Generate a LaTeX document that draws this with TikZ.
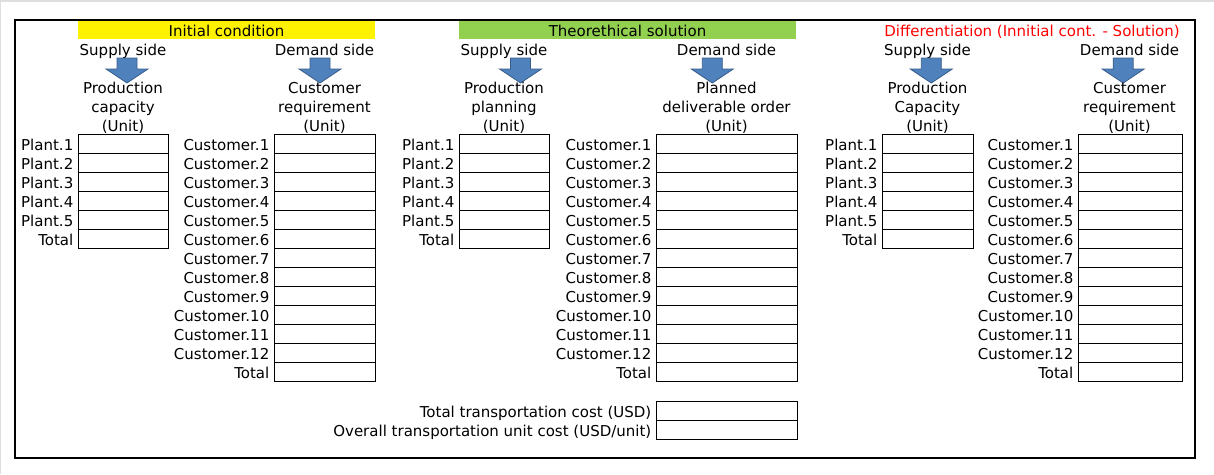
\documentclass[tikz,border=0pt]{standalone}
\usepackage{fontspec}
\setmainfont{DejaVu Sans}
\usepackage{tikz}
\usepackage{xcolor}
\definecolor{headgreen}{RGB}{146,208,80}
\definecolor{arrowfill}{RGB}{79,129,189}
\definecolor{arrowline}{RGB}{56,93,138}
\definecolor{edgegray}{RGB}{222,222,222}

\begin{document}
\begin{tikzpicture}[x=1pt,y=1pt,yscale=-1,xscale=1,
  font=\fontsize{15}{19}\selectfont,
  txt/.style={inner sep=0pt, text height=13.6pt, text depth=0pt},
  rowlabel/.style={txt, anchor=east},
  cell/.style={draw, line width=0.8pt, inner sep=0pt, anchor=north west, minimum height=19pt},
  heading/.style={txt, minimum height=18pt},
  stack/.style={align=center, inner sep=0pt, anchor=base},
  downarrow/.style={fill=arrowfill, draw=arrowline, line width=0.8pt}]
\useasboundingbox (0,0) rectangle (1214,474);

%Screen edge
\draw [edgegray, line width=2.4] (0,1.2) -- (1214,1.2);
\draw [edgegray, line width=1.4] (0.7,0) -- (0.7,474);
%Frame
\draw [line width=2] (15,20) rectangle (1194.5,458);

% Text Node
\node [heading, fill=yellow, minimum width=297pt] (initHead) at (226.5,29.5) {Initial condition};
% Text Node
\node [heading, fill=headgreen, minimum width=337pt] (solHead) at (627.5,29.5) {Theorethical solution};
% Text Node
\node [heading, text=red] (diffHead) at (1032,29.5) {Differentiation (Innitial cont. - Solution)};

%Block arrows and side names
\foreach \s/\sc/\dc/\sa/\da in {1/123/324.5/127/320, 2/504/726.5/520.5/712.3, 3/927.5/1129.5/931.3/1123.2}{
  \node [txt] (supply\s) at (\sc,48.5) {Supply side};
  \node [txt] (demand\s) at (\dc,48.5) {Demand side};
  \foreach \c in {\sa,\da}
    \draw [downarrow] ({\c-10},58) -- ({\c+10},58) -- ({\c+10},69) -- ({\c+21},69) -- (\c,83) -- ({\c-21},69) -- ({\c-10},69) -- cycle;
}

% Text Node
\node [stack] (supplyText1) at (123,131.3) {Production\\capacity\\(Unit)};
% Text Node
\node [stack] (demandText1) at (324.5,131.3) {Customer\\requirement\\(Unit)};
% Text Node
\node [stack] (supplyText2) at (504,131.3) {Production\\planning\\(Unit)};
% Text Node
\node [stack] (demandText2) at (726.5,131.3) {Planned\\deliverable order\\(Unit)};
% Text Node
\node [stack] (supplyText3) at (927.5,131.3) {Production\\Capacity\\(Unit)};
% Text Node
\node [stack] (demandText3) at (1129.5,131.3) {Customer\\requirement\\(Unit)};

%Tables
\foreach \s/\px/\pw/\cx/\cw in {1/78/90/274/101, 2/459/90/656/141, 3/882/91/1078/104}{
  \foreach \i in {1,...,5}{
    \node [cell, minimum width=\pw pt] (plant\s-\i) at (\px,{134+19*(\i-1)}) {};
    \node [rowlabel] (plantLab\s-\i) at ([xshift=-4.5pt]plant\s-\i.west) {Plant.\i};
  }
  \node [cell, minimum width=\pw pt] (plant\s-t) at (\px,229) {};
  \node [rowlabel] (plantLab\s-t) at ([xshift=-4.5pt]plant\s-t.west) {Total};
  \foreach \i in {1,...,12}{
    \node [cell, minimum width=\cw pt] (cust\s-\i) at (\cx,{134+19*(\i-1)}) {};
    \node [rowlabel] (custLab\s-\i) at ([xshift=-4.5pt]cust\s-\i.west) {Customer.\i};
  }
  \node [cell, minimum width=\cw pt] (cust\s-t) at (\cx,362) {};
  \node [rowlabel] (custLab\s-t) at ([xshift=-4.5pt]cust\s-t.west) {Total};
}

%Cost boxes
\node [cell, minimum width=141pt] (costTotal) at (656,401) {};
\node [cell, minimum width=141pt] (costUnit) at (656,420) {};
% Text Node
\node [rowlabel] (costTotalLab) at ([xshift=-4.5pt]costTotal.west) {Total transportation cost (USD)};
% Text Node
\node [rowlabel] (costUnitLab) at ([xshift=-4.5pt]costUnit.west) {Overall transportation unit cost (USD/unit)};
\end{tikzpicture}
\end{document}
